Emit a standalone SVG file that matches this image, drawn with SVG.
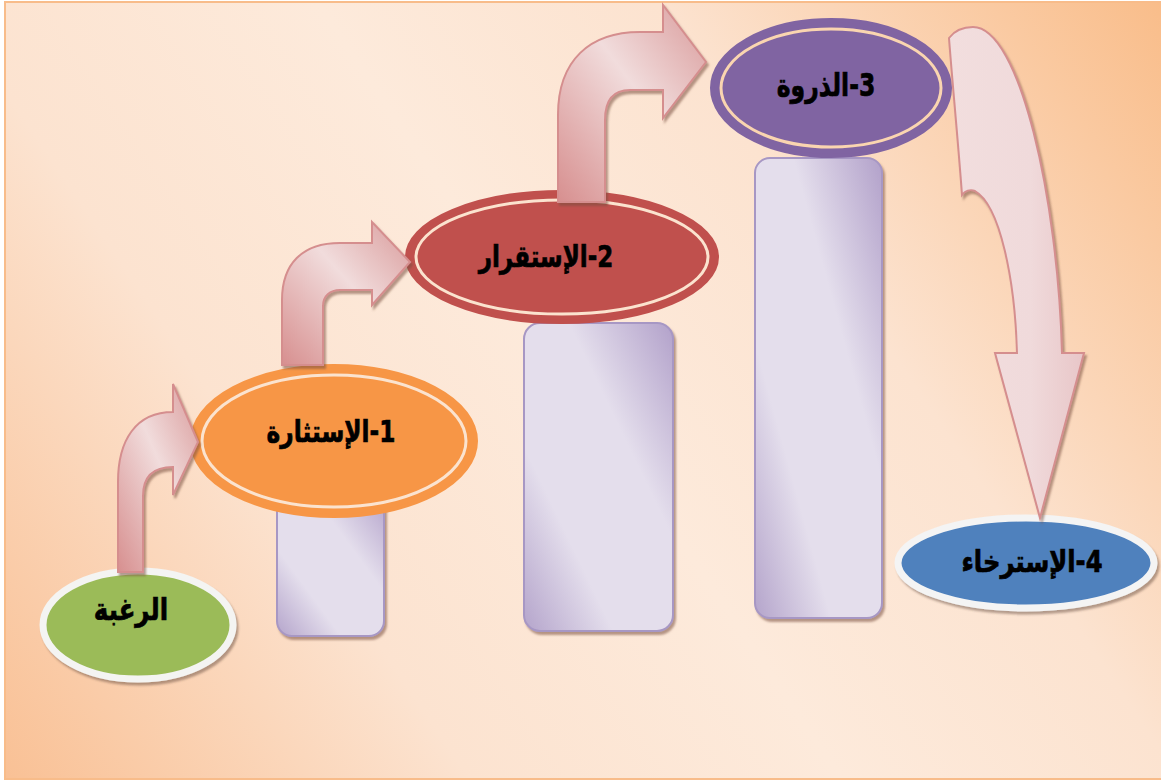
<svg xmlns="http://www.w3.org/2000/svg" width="1161" height="784" viewBox="0 0 1161 784">
  <defs>
    <linearGradient id="bg" gradientUnits="userSpaceOnUse" x1="1161" y1="0" x2="0" y2="784">
      <stop offset="0" stop-color="#F9BD8A"/>
      <stop offset="0.3" stop-color="#FCE3D0"/>
      <stop offset="0.5" stop-color="#FDEADB"/>
      <stop offset="0.72" stop-color="#FCE3D0"/>
      <stop offset="1" stop-color="#F9C094"/>
    </linearGradient>
    <linearGradient id="pillar" x1="0" y1="1" x2="1" y2="0">
      <stop offset="0" stop-color="#B4A4CB"/>
      <stop offset="0.3" stop-color="#E4DEEC"/>
      <stop offset="0.65" stop-color="#E4DEEC"/>
      <stop offset="1" stop-color="#B2A1CA"/>
    </linearGradient>
    <linearGradient id="arrowG" x1="0" y1="1" x2="1" y2="0">
      <stop offset="0" stop-color="#D78F8F"/>
      <stop offset="0.55" stop-color="#F1DCDC"/>
      <stop offset="1" stop-color="#D99A9A"/>
    </linearGradient>
    <linearGradient id="arrowG4" x1="0" y1="0" x2="1" y2="0">
      <stop offset="0" stop-color="#F2DEDE"/>
      <stop offset="0.6" stop-color="#F0DADB"/>
      <stop offset="1" stop-color="#E8C6C8"/>
    </linearGradient>
    <filter id="sh" x="-10%" y="-10%" width="125%" height="130%">
      <feDropShadow dx="2" dy="3" stdDeviation="1.2" flood-color="#5a4030" flood-opacity="0.45"/>
    </filter>
    <filter id="shs" x="-10%" y="-10%" width="125%" height="130%">
      <feDropShadow dx="2" dy="3" stdDeviation="0.8" flood-color="#7a5040" flood-opacity="0.55"/>
    </filter>
  </defs>
  <style>
    .lbl { font-family: "DejaVu Sans", "Noto Sans", sans-serif; font-weight: bold; font-size: 25px; fill: #000; stroke: #000; stroke-width: 0.6; text-anchor: middle; direction: rtl; }
    .pil { fill: url(#pillar); stroke: #A797C4; stroke-width: 2; filter: url(#shs); }
    .arr { fill: url(#arrowG); stroke: #D58E8E; stroke-width: 2; filter: url(#shs); }
    .ring { fill: none; stroke-width: 3; }
  </style>

  <rect x="5" y="2" width="1160" height="777" fill="url(#bg)" stroke="#F8BC8A" stroke-width="2"/>

  <g id="pillar1"><rect class="pil" x="277" y="490" width="107" height="146" rx="15"/></g>
  <g id="pillar2"><rect class="pil" x="524" y="323" width="149" height="308" rx="16"/></g>
  <g id="pillar3"><rect class="pil" x="755" y="158" width="127" height="460" rx="15"/></g>

  <g id="node-desire">
    <ellipse cx="138" cy="625" rx="95" ry="54" fill="#9BBB59" stroke="#F4F4F2" stroke-width="7" filter="url(#sh)"/>
    <text class="lbl" transform="translate(131,620) scale(0.98,1.22)">الرغبة</text>
  </g>

  <g id="node-1">
    <ellipse cx="334" cy="441" rx="142" ry="75" fill="#F79646" stroke="#F79646" stroke-width="4"/>
    <ellipse class="ring" cx="334" cy="441" rx="132" ry="66" stroke="#FBE3CF"/>
    <text class="lbl" transform="translate(331,442) scale(0.93,1.22)">1-الإستثارة</text>
  </g>

  <g id="node-2">
    <ellipse cx="562" cy="257" rx="155" ry="65" fill="#C0504D" stroke="#C0504D" stroke-width="4"/>
    <ellipse class="ring" cx="562" cy="257" rx="146" ry="57" stroke="#FBE3CF"/>
    <text class="lbl" transform="translate(546,267) scale(0.92,1.22)">2-الإستقرار</text>
  </g>

  <g id="node-3">
    <ellipse cx="831" cy="88" rx="119" ry="68" fill="#8064A2" stroke="#8064A2" stroke-width="4"/>
    <ellipse class="ring" cx="831" cy="88" rx="110" ry="59" stroke="#FAD5B0"/>
    <text class="lbl" transform="translate(826,96) scale(0.94,1.25)">3-الذروة</text>
  </g>

  <g id="node-4">
    <ellipse cx="1026" cy="563" rx="128" ry="45" fill="#4F81BD" stroke="#F4F4F4" stroke-width="7" filter="url(#sh)"/>
    <text class="lbl" transform="translate(1032,572) scale(0.97,1.2)">4-الإسترخاء</text>
  </g>

  <g id="connectors">
    <path class="arr" d="M118,572 L118,482 C118,440 136,412 173,412 L173,384 L198,442 L173,495 L173,467 C153,467 143,476 143,496 L143,572 Z"/>
    <path class="arr" d="M282,365 L282,300 C282,264 302,243 340,243 L372,243 L372,222 L410,262 L372,305 L372,290 L340,290 C330,290 323,296 323,306 L323,365 Z"/>
    <path class="arr" d="M558,202 L558,115 C558,60 590,32 640,32 L663,32 L663,5 L706,62 L663,118 L663,90 L630,90 C614,90 605,100 605,120 L605,202 Z"/>
    <path class="arr" style="fill:url(#arrowG4)" d="M949,38 C955,30 964,27 973,27 C1020,27 1058,200 1062,353 L1084,353 L1040,518 L995,353 L1017,353 C1015,280 1000,205 975,191 C970,189 965,191 962,195 C958,140 953,90 949,38 Z"/>
  </g>
</svg>
